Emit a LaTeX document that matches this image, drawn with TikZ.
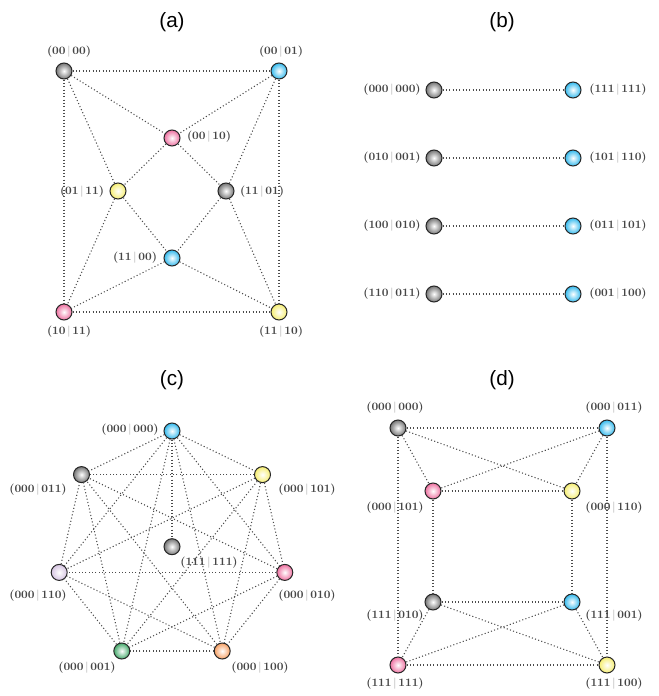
\documentclass[tikz,border=0pt]{standalone}
\usepackage{fontspec}
\newfontfamily\titlefont{Liberation Sans}
\usetikzlibrary{calc}

\definecolor{ballgray}{RGB}{118,118,118}
\definecolor{ballblue}{RGB}{52,186,238}
\definecolor{ballpink}{RGB}{238,112,160}
\definecolor{ballyellow}{RGB}{246,238,112}
\definecolor{balllilac}{RGB}{214,196,226}
\definecolor{ballgreen}{RGB}{70,170,108}
\definecolor{ballorange}{RGB}{246,160,100}
\definecolor{labgray}{RGB}{70,70,70}
\definecolor{bargray}{RGB}{150,150,150}
\definecolor{dotgray}{RGB}{75,75,75}

\newcommand{\pairlab}[2]{(#1\kern1.3pt{\mdseries\color{bargray}|}\kern1.3pt#2)}

\begin{document}
\begin{tikzpicture}[x=0.75pt,y=0.75pt,yscale=-1,xscale=1,
	ball/.style={circle,draw=black!85,line width=0.75pt,minimum size=12pt,inner sep=0pt,shading=radial,inner color=white,outer color=#1},
	link/.style={draw=dotgray,line width=0.8pt,dash pattern=on 0.8pt off 1.7pt},
	lbl/.style={inner sep=0.75pt,text=labgray,font=\fontsize{8.5}{9}\selectfont\bfseries},
	ttl/.style={inner sep=0.75pt,font=\titlefont\fontsize{15.5}{17}\selectfont}]
			\useasboundingbox (0,0) rectangle (659,696);

			% Titles
			\node[ttl] (ta) at (172,22) {(a)};
			\node[ttl] (tb) at (502,22) {(b)};
			\node[ttl] (tc) at (172,380) {(c)};
			\node[ttl] (td) at (502,380) {(d)};

			%%%%%%%% (a)
			\node[ball=ballgray] (a1) at (64,71) {};
			\node[ball=ballblue] (a2) at (279,71) {};
			\node[ball=ballpink] (a3) at (172,138) {};
			\node[ball=ballyellow] (a4) at (118,191) {};
			\node[ball=ballgray] (a5) at (226,191) {};
			\node[ball=ballblue] (a6) at (172,258) {};
			\node[ball=ballpink] (a7) at (64,312) {};
			\node[ball=ballyellow] (a8) at (279,312) {};
			% outer square
			\draw[link] (a1) -- (a2);
			\draw[link] (a7) -- (a8);
			\draw[link] (a1) -- (a7);
			\draw[link] (a2) -- (a8);
			% inner edges
			\draw[link] (a1) -- (a3);
			\draw[link] (a2) -- (a3);
			\draw[link] (a1) -- (a4);
			\draw[link] (a2) -- (a5);
			\draw[link] (a3) -- (a4);
			\draw[link] (a3) -- (a5);
			\draw[link] (a4) -- (a6);
			\draw[link] (a5) -- (a6);
			\draw[link] (a4) -- (a7);
			\draw[link] (a5) -- (a8);
			\draw[link] (a6) -- (a7);
			\draw[link] (a6) -- (a8);
			% Text Node
			\node[lbl] (la1) at (69,52) {\pairlab{00}{00}};
			\node[lbl] (la2) at (281,52) {\pairlab{00}{01}};
			\node[lbl] (la3) at (209,137) {\pairlab{00}{10}};
			\node[lbl] (la4) at (82,192) {\pairlab{01}{11}};
			\node[lbl] (la5) at (262,192) {\pairlab{11}{01}};
			\node[lbl] (la6) at (135,258) {\pairlab{11}{00}};
			\node[lbl] (la7) at (69,332) {\pairlab{10}{11}};
			\node[lbl] (la8) at (281,332) {\pairlab{11}{10}};

			%%%%%%%% (b)
			\node[ball=ballgray] (b1) at (434,90) {};
			\node[ball=ballblue] (b2) at (573,90) {};
			\node[ball=ballgray] (b3) at (434,158) {};
			\node[ball=ballblue] (b4) at (573,158) {};
			\node[ball=ballgray] (b5) at (434,226) {};
			\node[ball=ballblue] (b6) at (573,226) {};
			\node[ball=ballgray] (b7) at (434,294) {};
			\node[ball=ballblue] (b8) at (573,294) {};
			\draw[link] (b1) -- (b2);
			\draw[link] (b3) -- (b4);
			\draw[link] (b5) -- (b6);
			\draw[link] (b7) -- (b8);
			% Text Node
			\node[lbl] (lb1) at (392,90) {\pairlab{000}{000}};
			\node[lbl] (lb2) at (618,90) {\pairlab{111}{111}};
			\node[lbl] (lb3) at (392,158) {\pairlab{010}{001}};
			\node[lbl] (lb4) at (618,158) {\pairlab{101}{110}};
			\node[lbl] (lb5) at (392,226) {\pairlab{100}{010}};
			\node[lbl] (lb6) at (618,226) {\pairlab{011}{101}};
			\node[lbl] (lb7) at (392,294) {\pairlab{110}{011}};
			\node[lbl] (lb8) at (618,294) {\pairlab{001}{100}};

			%%%%%%%% (c)
			\node[ball=ballblue] (c1) at (172,431) {};
			\node[ball=ballyellow] (c2) at (262.5,474.6) {};
			\node[ball=ballpink] (c3) at (284.8,572.4) {};
			\node[ball=ballorange] (c4) at (222.2,651) {};
			\node[ball=ballgreen] (c5) at (121.8,651) {};
			\node[ball=balllilac] (c6) at (59.2,572.4) {};
			\node[ball=ballgray] (c7) at (81.5,474.6) {};
			\node[ball=ballgray] (c0) at (172,546.7) {};
			\draw[link] (c1) -- (c0);
			\draw[link] (c1) -- (c2);
			\draw[link] (c1) -- (c3);
			\draw[link] (c1) -- (c4);
			\draw[link] (c1) -- (c5);
			\draw[link] (c1) -- (c6);
			\draw[link] (c1) -- (c7);
			\draw[link] (c2) -- (c3);
			\draw[link] (c2) -- (c4);
			\draw[link] (c2) -- (c5);
			\draw[link] (c2) -- (c6);
			\draw[link] (c2) -- (c7);
			\draw[link] (c3) -- (c4);
			\draw[link] (c3) -- (c5);
			\draw[link] (c3) -- (c6);
			\draw[link] (c3) -- (c7);
			\draw[link] (c4) -- (c5);
			\draw[link] (c4) -- (c6);
			\draw[link] (c4) -- (c7);
			\draw[link] (c5) -- (c6);
			\draw[link] (c5) -- (c7);
			\draw[link] (c6) -- (c7);
			% Text Node
			\node[lbl] (lc1) at (130,430) {\pairlab{000}{000}};
			\node[lbl] (lc2) at (307,490) {\pairlab{000}{101}};
			\node[lbl] (lc3) at (307,596) {\pairlab{000}{010}};
			\node[lbl] (lc4) at (260,668) {\pairlab{000}{100}};
			\node[lbl] (lc5) at (87,668) {\pairlab{000}{001}};
			\node[lbl] (lc6) at (38,596) {\pairlab{000}{110}};
			\node[lbl] (lc7) at (38,490) {\pairlab{000}{011}};
			\node[lbl] (lc0) at (209,563) {\pairlab{111}{111}};

			%%%%%%%% (d)
			\node[ball=ballgray] (d1) at (398,428) {};
			\node[ball=ballblue] (d2) at (607,428) {};
			\node[ball=ballpink] (d3) at (433,491) {};
			\node[ball=ballyellow] (d4) at (572,491) {};
			\node[ball=ballgray] (d5) at (433,602) {};
			\node[ball=ballblue] (d6) at (572,602) {};
			\node[ball=ballpink] (d7) at (398,665) {};
			\node[ball=ballyellow] (d8) at (607,665) {};
			\draw[link] (d1) -- (d2);
			\draw[link] (d1) -- (d3);
			\draw[link] (d1) -- (d4);
			\draw[link] (d2) -- (d3);
			\draw[link] (d2) -- (d4);
			\draw[link] (d3) -- (d4);
			\draw[link] (d1) -- (d7);
			\draw[link] (d2) -- (d8);
			\draw[link] (d3) -- (d5);
			\draw[link] (d4) -- (d6);
			\draw[link] (d5) -- (d6);
			\draw[link] (d5) -- (d7);
			\draw[link] (d5) -- (d8);
			\draw[link] (d6) -- (d7);
			\draw[link] (d6) -- (d8);
			\draw[link] (d7) -- (d8);
			% Text Node
			\node[lbl] (ld1) at (395,408) {\pairlab{000}{000}};
			\node[lbl] (ld2) at (614,408) {\pairlab{000}{011}};
			\node[lbl] (ld3) at (395,508) {\pairlab{000}{101}};
			\node[lbl] (ld4) at (614,508) {\pairlab{000}{110}};
			\node[lbl] (ld5) at (395,616) {\pairlab{111}{010}};
			\node[lbl] (ld6) at (614,616) {\pairlab{111}{001}};
			\node[lbl] (ld7) at (395,684) {\pairlab{111}{111}};
			\node[lbl] (ld8) at (614,684) {\pairlab{111}{100}};

		\end{tikzpicture}
\end{document}
